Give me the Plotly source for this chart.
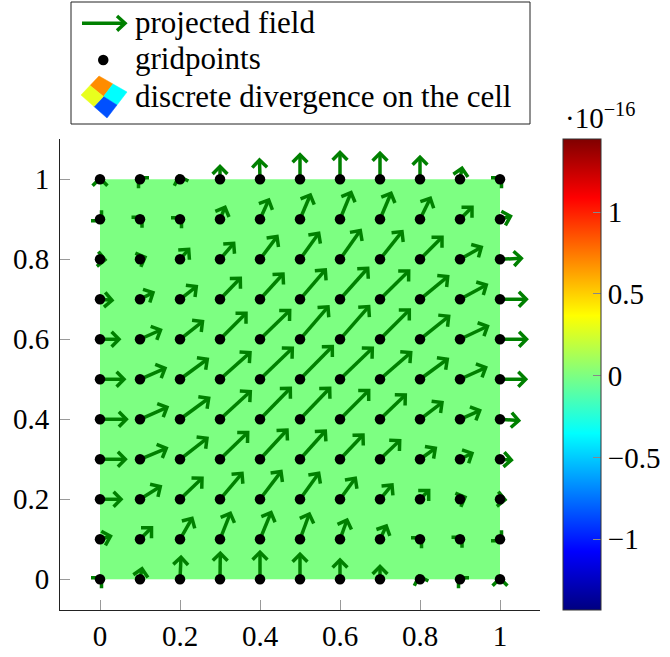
import math
import plotly.graph_objects as go

# ---------------- data ----------------
grid_x = [0.0, 0.1, 0.2, 0.3, 0.4, 0.5, 0.6, 0.7, 0.8, 0.9, 1.0]
grid_y = [0.0, 0.1, 0.2, 0.3, 0.4, 0.5, 0.6, 0.7, 0.8, 0.9, 1.0]

x_tick_vals = [0, 0.2, 0.4, 0.6, 0.8, 1]
x_tick_text = ["0", "0.2", "0.4", "0.6", "0.8", "1"]
y_tick_vals = [0, 0.2, 0.4, 0.6, 0.8, 1]
y_tick_text = ["0", "0.2", "0.4", "0.6", "0.8", "1"]

cbar_tick_vals = [-1, -0.5, 0, 0.5, 1]
cbar_tick_text = ["\u22121", "\u22120.5", "0", "0.5", "1"]
div_min, div_max = -1.433, 1.448   # colour range, in units of 1e-16

# discrete divergence on each of the 10x10 cells (units of 1e-16); all ~0
divergence = [
    [0.0, 0.0, 0.0, 0.0, 0.0, 0.0, 0.0, 0.0, 0.0, 0.0],
    [0.0, 0.0, 0.0, 0.0, 0.0, 0.0, 0.0, 0.0, 0.0, 0.0],
    [0.0, 0.0, 0.0, 0.0, 0.0, 0.0, 0.0, 0.0, 0.0, 0.0],
    [0.0, 0.0, 0.0, 0.0, 0.0, 0.0, 0.0, 0.0, 0.0, 0.0],
    [0.0, 0.0, 0.0, 0.0, 0.0, 0.0, 0.0, 0.0, 0.0, 0.0],
    [0.0, 0.0, 0.0, 0.0, 0.0, 0.0, 0.0, 0.0, 0.0, 0.0],
    [0.0, 0.0, 0.0, 0.0, 0.0, 0.0, 0.0, 0.0, 0.0, 0.0],
    [0.0, 0.0, 0.0, 0.0, 0.0, 0.0, 0.0, 0.0, 0.0, 0.0],
    [0.0, 0.0, 0.0, 0.0, 0.0, 0.0, 0.0, 0.0, 0.0, 0.0],
    [0.0, 0.0, 0.0, 0.0, 0.0, 0.0, 0.0, 0.0, 0.0, 0.0],
]

# projected field at the gridpoints; row index = y index (y = 0 ... 1), column = x index
U = [
    [1.5, 2.0, 1.0, 0.3, 0.0, 0.0, 0.0, 0.0, -1.0, -1.5, 0.0],
    [10.5, 11.5, 12.0, 10.3, 11.0, 9.3, 7.0, 6.3, 1.5, 2.0, 1.5],
    [21.0, 20.3, 22.0, 22.0, 21.0, 18.7, 15.3, 12.0, 8.7, 5.0, 5.0],
    [25.3, 26.3, 27.0, 27.7, 27.0, 25.3, 23.0, 19.7, 15.3, 12.0, 11.3],
    [26.3, 27.0, 28.7, 30.3, 30.3, 29.7, 28.7, 25.3, 22.0, 19.7, 18.7],
    [24.0, 25.0, 27.3, 30.0, 32.3, 32.3, 32.3, 30.7, 27.3, 25.7, 25.7],
    [19.0, 20.5, 22.5, 26.0, 29.7, 28.0, 28.7, 29.3, 28.7, 27.5, 26.5],
    [12.0, 13.0, 16.3, 20.3, 23.0, 25.3, 27.7, 28.7, 27.7, 26.3, 26.3],
    [5.0, 5.0, 8.7, 13.7, 17.0, 18.7, 20.3, 22.0, 22.0, 21.3, 21.3],
    [1.5, 2.0, 1.5, 5.0, 8.7, 10.3, 11.0, 11.0, 10.3, 12.0, 10.5],
    [0.0, -1.5, -1.0, 0.0, -0.5, 0.0, 0.0, 0.0, 0.0, 2.0, 1.5],
]
V = [
    [1.5, 10.5, 22.0, 26.0, 27.0, 25.0, 19.3, 12.7, 3.0, 1.5, 1.0],
    [3.0, 11.5, 21.0, 26.0, 26.7, 25.3, 19.3, 13.3, 1.5, 2.0, -1.5],
    [0.0, 12.7, 21.0, 26.0, 27.7, 26.0, 21.0, 14.3, 8.7, 2.0, -0.5],
    [0.0, 11.0, 21.0, 26.7, 29.3, 28.3, 24.3, 18.7, 11.0, 6.0, -0.7],
    [0.0, 12.0, 21.0, 27.7, 31.0, 31.0, 28.7, 24.3, 16.7, 8.7, -1.3],
    [0.0, 11.0, 20.0, 26.7, 31.0, 32.7, 31.0, 26.7, 20.0, 11.7, 0.0],
    [0.0, 9.3, 17.7, 26.0, 28.7, 32.5, 32.7, 29.3, 23.0, 13.0, 0.0],
    [-1.0, 6.7, 12.7, 21.0, 25.3, 29.3, 31.0, 28.3, 22.7, 14.3, 0.0],
    [-0.5, 2.0, 10.0, 16.0, 22.7, 26.0, 28.7, 27.7, 22.0, 12.0, 1.0],
    [-1.5, 2.0, 1.5, 12.0, 19.3, 24.3, 26.7, 26.0, 21.0, 12.0, 3.0],
    [1.0, 1.5, 3.0, 12.7, 19.3, 24.5, 26.7, 26.0, 22.0, 11.0, 1.5],
]
QUIVER_SCALE = 1 / 400.0

# ---------------- styling ----------------
FONT = "Liberation Serif"
FS = 29
FS_LEG = 31
ARROW_GREEN = "rgb(0,128,0)"
ARROW_W = 3.5
HEAD_LEN = 10.5 / 400.0
HEAD_ANG = math.radians(45)

jet = [
    [0.0, "rgb(0,0,128)"],
    [0.125, "rgb(0,0,255)"],
    [0.375, "rgb(0,255,255)"],
    [0.625, "rgb(255,255,0)"],
    [0.875, "rgb(255,0,0)"],
    [1.0, "rgb(128,0,0)"],
]

W, H = 670, 657
# plot area in pixels
PL, PR, PT, PB = 60, 540, 139, 610


def px(xp):
    return xp / W


def py(yp):
    return (H - yp) / H


# ---------------- arrows ----------------
ax, ay = [], []
for j, yv in enumerate(grid_y):
    for i, xv in enumerate(grid_x):
        u = U[j][i] * QUIVER_SCALE
        v = V[j][i] * QUIVER_SCALE
        tx, ty = xv + u, yv + v
        n = math.hypot(u, v)
        if n == 0:
            continue
        dx, dy = u / n, v / n
        ax += [xv, tx, None]
        ay += [yv, ty, None]
        legs = []
        for s in (1, -1):
            c, sn = math.cos(s * HEAD_ANG), math.sin(s * HEAD_ANG)
            rx = dx * c - dy * sn
            ry = dx * sn + dy * c
            legs.append((tx - HEAD_LEN * rx, ty - HEAD_LEN * ry))
        ax += [legs[0][0], tx, legs[1][0], None]
        ay += [legs[0][1], ty, legs[1][1], None]

pts_x = [xv for yv in grid_y for xv in grid_x]
pts_y = [yv for yv in grid_y for xv in grid_x]

fig = go.Figure()
fig.add_trace(go.Heatmap(
    x=grid_x, y=grid_y, z=divergence,
    colorscale=jet, zmin=div_min, zmax=div_max, zsmooth=False,
    hoverinfo="skip", showscale=True,
    colorbar=dict(
        x=px(562.5), xanchor="left", xpad=0,
        y=py(PT), yanchor="top", ypad=0, len=(PB - PT) / H, lenmode="fraction",
        thickness=38, thicknessmode="pixels",
        outlinewidth=1, outlinecolor="#333",
        tickvals=cbar_tick_vals, ticktext=cbar_tick_text,
        ticks="inside", ticklen=8, tickcolor="#888", tickwidth=1,
        tickfont=dict(family=FONT, size=FS, color="black"),
    ),
))
fig.add_trace(go.Scatter(
    x=ax, y=ay, mode="lines",
    line=dict(color=ARROW_GREEN, width=ARROW_W),
    hoverinfo="skip", showlegend=False,
))
fig.add_trace(go.Scatter(
    x=pts_x, y=pts_y, mode="markers",
    marker=dict(color="black", size=10.5, line=dict(width=0)),
    hoverinfo="skip", showlegend=False,
))

axis_common = dict(
    showgrid=False, zeroline=False, showline=True, linecolor="#222", linewidth=1,
    mirror=False, ticks="inside", ticklen=10, tickcolor="#999", tickwidth=1,
    tickfont=dict(family=FONT, size=FS, color="black"), automargin=False,
)
fig.update_xaxes(range=[-0.1, 1.1], tickvals=x_tick_vals, ticktext=x_tick_text,
                 domain=[px(PL), px(PR)], ticklabelstandoff=0, **axis_common)
fig.update_yaxes(range=[-0.0768, 1.1007], tickvals=y_tick_vals, ticktext=y_tick_text,
                 domain=[py(PB), py(PT)], ticklabelstandoff=4, **axis_common)

# ---------------- custom legend ----------------
shapes = []
shapes.append(dict(type="rect", xref="paper", yref="paper",
                   x0=px(71), x1=px(530), y0=py(124), y1=py(2),
                   line=dict(color="#222", width=1), fillcolor="white", layer="above"))
# arrow icon
shapes.append(dict(type="line", xref="paper", yref="paper",
                   x0=px(82), x1=px(124), y0=py(23.3), y1=py(23.3),
                   line=dict(color=ARROW_GREEN, width=ARROW_W), layer="above"))
shapes.append(dict(type="path", xref="paper", yref="paper",
                   path="M {} {} L {} {} L {} {}".format(px(117), py(16.0), px(125), py(23.3), px(117), py(30.6)),
                   line=dict(color=ARROW_GREEN, width=ARROW_W), layer="above"))
# gridpoint icon
shapes.append(dict(type="circle", xref="paper", yref="paper",
                   x0=px(98), x1=px(108.5), y0=py(65.2), y1=py(54.8),
                   fillcolor="black", line=dict(color="black", width=0), layer="above"))
# divergence icon (2x2 patch)
Lp, Tp, Rp, Bp = (81, 95), (99, 76), (127, 92), (107, 118)
C = (103.5, 96.5)
LT = ((Lp[0] + Tp[0]) / 2, (Lp[1] + Tp[1]) / 2)
TR = ((Tp[0] + Rp[0]) / 2, (Tp[1] + Rp[1]) / 2)
RB = ((Rp[0] + Bp[0]) / 2, (Rp[1] + Bp[1]) / 2)
BL = ((Bp[0] + Lp[0]) / 2, (Bp[1] + Lp[1]) / 2)
quads = [([LT, Tp, TR, C], "rgb(255,140,0)"),
         ([TR, Rp, RB, C], "rgb(0,255,255)"),
         ([RB, Bp, BL, C], "rgb(0,80,255)"),
         ([BL, Lp, LT, C], "rgb(232,255,30)")]
for pts, col in quads:
    path = "M " + " L ".join("{} {}".format(px(a), py(b)) for a, b in pts) + " Z"
    shapes.append(dict(type="path", xref="paper", yref="paper", path=path,
                       fillcolor=col, line=dict(color=col, width=0.5), layer="above"))

annotations = []
for text, yc in [("projected field", 22), ("gridpoints", 58), ("discrete divergence on the cell", 96)]:
    annotations.append(dict(text=text, xref="paper", yref="paper", x=px(133), y=py(yc),
                            xanchor="left", yanchor="middle", showarrow=False,
                            font=dict(family=FONT, size=FS_LEG, color="black")))
annotations.append(dict(text="\u00b710<sup>\u221216</sup>", xref="paper", yref="paper",
                        x=px(563), y=py(136), xanchor="left", yanchor="bottom", showarrow=False,
                        font=dict(family=FONT, size=FS, color="black")))

fig.update_layout(
    width=W, height=H, autosize=False,
    margin=dict(l=0, r=0, t=0, b=0, pad=0),
    plot_bgcolor="white", paper_bgcolor="white",
    showlegend=False, shapes=shapes, annotations=annotations,
    font=dict(family=FONT, size=FS, color="black"),
)

fig.write_html("out.html", config={"displayModeBar": False},
               post_script="document.body.style.margin='0px';")
